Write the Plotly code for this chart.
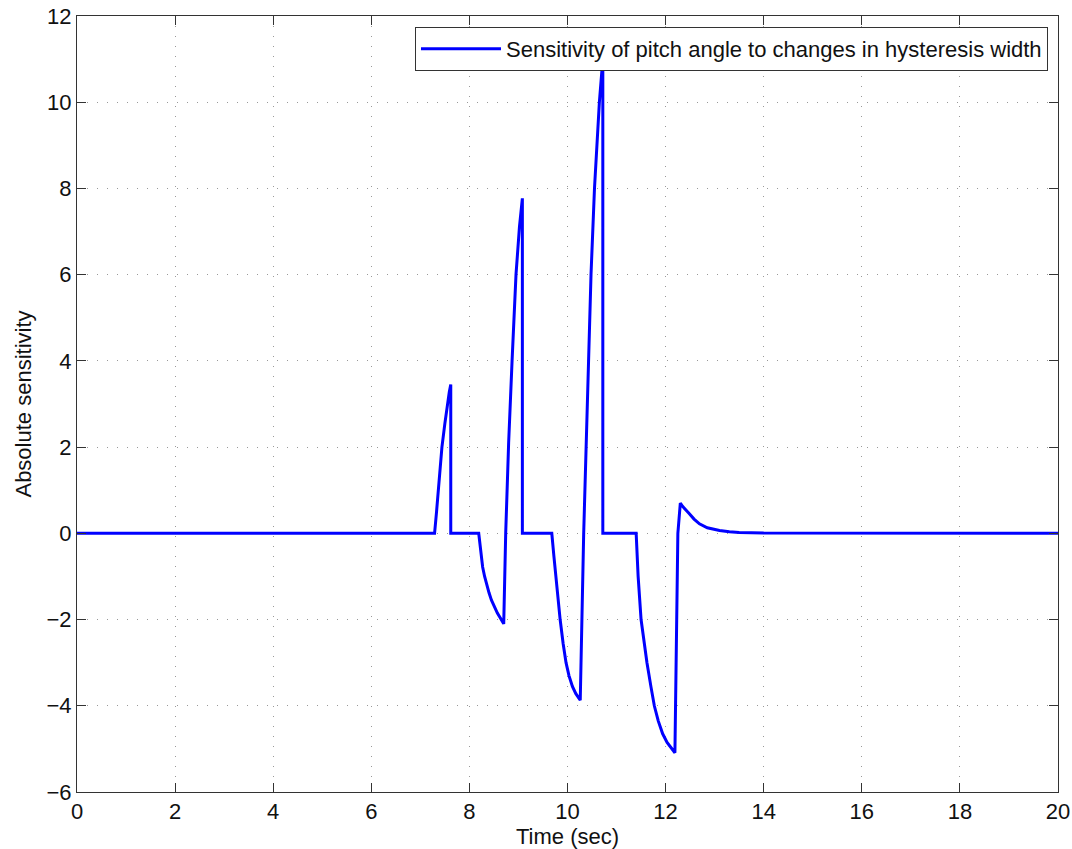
import plotly.graph_objects as go

time_sec = [0, 7.29, 7.33, 7.37, 7.44, 7.50, 7.55, 7.59, 7.62, 7.62,
            8.19, 8.23, 8.27, 8.31, 8.35, 8.40, 8.45, 8.51, 8.57, 8.64, 8.70,
            8.74, 8.80, 8.87, 8.95, 9.02, 9.08, 9.08,
            9.68, 9.72, 9.76, 9.80, 9.85, 9.91, 9.97, 10.03, 10.10, 10.17, 10.26,
            10.33, 10.41, 10.48, 10.55, 10.60, 10.65, 10.72, 10.72,
            11.40, 11.44, 11.50, 11.56, 11.62, 11.70, 11.77, 11.85, 11.94, 12.03, 12.11, 12.19,
            12.25, 12.30, 12.35, 12.40, 12.48, 12.58, 12.69, 12.85, 13.0, 13.1, 13.3, 13.5, 14.0, 20]
sensitivity = [0, 0, 0.5, 1.0, 2.0, 2.55, 3.0, 3.28, 3.45, 0,
               0, -0.42, -0.78, -1.0, -1.18, -1.38, -1.55, -1.71, -1.85, -1.98, -2.10,
               0, 2.1, 4.0, 6.0, 7.1, 7.77, 0,
               0, -0.5, -1.0, -1.5, -2.0, -2.55, -3.0, -3.3, -3.55, -3.72, -3.87,
               0, 3.32, 6.02, 8.0, 9.1, 10.0, 11.0, 0,
               0, -1.0, -2.0, -2.55, -3.0, -3.55, -4.0, -4.35, -4.65, -4.85, -4.98, -5.09,
               0, 0.70, 0.62, 0.55, 0.46, 0.33, 0.22, 0.13, 0.09, 0.065, 0.035, 0.02, 0.005, 0]

x_ticks = [0, 2, 4, 6, 8, 10, 12, 14, 16, 18, 20]
y_ticks = [-6, -4, -2, 0, 2, 4, 6, 8, 10, 12]

FONT = "Liberation Sans, Arial, sans-serif"
FS = 22

fig = go.Figure()
fig.add_trace(go.Scatter(
    x=time_sec, y=sensitivity, mode="lines",
    line=dict(color="#0000FF", width=3),
    name="Sensitivity of pitch angle to changes in hysteresis width",
))

axis_common = dict(
    showline=True, linecolor="#333333", linewidth=1, mirror="ticks",
    ticks="inside", ticklen=9, tickcolor="#333333", tickwidth=1,
    showgrid=True, gridcolor="#999999", gridwidth=1, griddash="1px,9px",
    zeroline=False, automargin=False,
    tickfont=dict(family=FONT, size=FS, color="#111111"),
)

fig.update_xaxes(range=[0, 20], tickvals=x_ticks,
                 title=dict(text="Time (sec)", standoff=2,
                            font=dict(family=FONT, size=FS, color="#111111")),
                 **axis_common)
fig.update_yaxes(range=[-6, 12], tickvals=y_ticks,
                 title=dict(text="Absolute sensitivity", standoff=8,
                            font=dict(family=FONT, size=FS, color="#111111")),
                 **axis_common)

fig.update_layout(
    width=1072, height=849,
    margin=dict(l=77, r=14, t=16, b=57),
    plot_bgcolor="white", paper_bgcolor="white",
    showlegend=True,
    legend=dict(
        x=0.9898, y=0.986, xanchor="right", yanchor="top",
        bgcolor="white", bordercolor="#333333", borderwidth=1,
        font=dict(family=FONT, size=FS, color="#111111"),
        itemwidth=80,
    ),
)

fig.write_html("out.html",
               config={"displayModeBar": False},
               post_script="document.body.style.margin='0';document.body.style.overflow='hidden';")
